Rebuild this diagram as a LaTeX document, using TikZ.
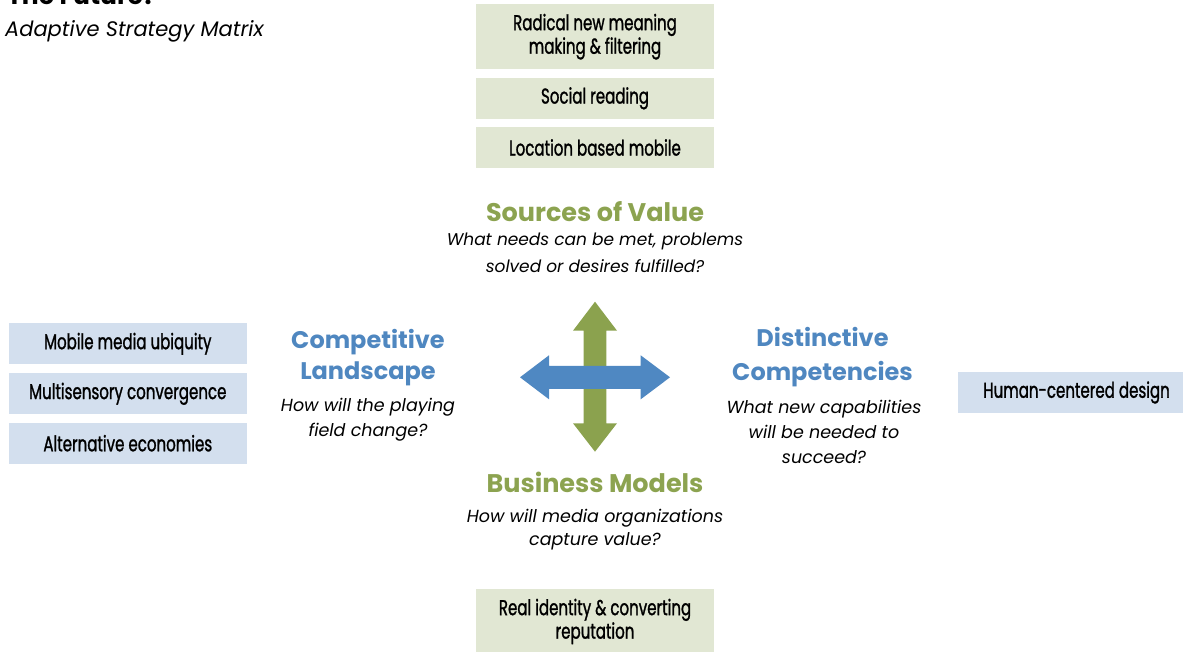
\documentclass[tikz,border=0pt]{standalone}
\usepackage{fontspec}
\setmainfont{Poppins}
\newfontfamily\boxfont{Poppins}[FakeStretch=0.7, FakeBold=1.2]
\definecolor{hgreen}{HTML}{8CA350}
\definecolor{hblue}{HTML}{4F87C0}
\definecolor{agreen}{HTML}{8BA24E}
\definecolor{ablue}{HTML}{4F88C2}
\definecolor{boxgreen}{HTML}{E1E7D3}
\definecolor{boxblue}{HTML}{D3DFEE}
\newcommand\mlines[1]{\begin{tabular}[t]{@{}c@{}}#1\end{tabular}}
\tikzset{
  gbox/.style={fill=boxgreen, draw=none, minimum width=238pt, inner sep=0pt, align=center, font=\boxfont\fontsize{21.5}{23.5}\selectfont},
  bbox/.style={fill=boxblue, draw=none, minimum width=238pt, minimum height=41pt, inner sep=0pt, align=center, font=\boxfont\fontsize{21.5}{23.5}\selectfont},
  headg/.style={text=hgreen, anchor=base, inner sep=0pt, font=\bfseries\fontsize{25.5}{32}\selectfont},
  headb/.style={text=hblue, anchor=base, inner sep=0pt, font=\bfseries\fontsize{24}{32}\selectfont},
  quest/.style={anchor=base, inner sep=0pt, font=\itshape\fontsize{17.5}{25}\selectfont},
}
\begin{document}
\begin{tikzpicture}[x=1pt,y=-1pt]
\useasboundingbox (0,0) rectangle (1183,652);
% title
\node[anchor=base west, inner sep=0pt, font=\bfseries\fontsize{25}{28}\selectfont] (title) at (7,5) {The Future?};
\node[anchor=base west, inner sep=0pt, font=\itshape\fontsize{21}{24}\selectfont] (subtitle) at (5,37) {Adaptive Strategy Matrix};
% top boxes
\node[gbox, minimum height=65.3pt] (t1) at (595,36.7) {Radical new meaning\\making \& filtering};
\node[gbox, minimum height=41.3pt] (t2) at (595,98.3) {Social reading};
\node[gbox, minimum height=41.6pt] (t3) at (595,147.5) {Location based mobile};
% bottom box
\node[gbox, minimum height=65pt] (b1) at (595,621.5) {Real identity \& converting\\reputation};
% left boxes
\node[bbox] (l1) at (127.8,343.8) {Mobile media ubiquity};
\node[bbox] (l2) at (127.8,393.8) {Multisensory convergence};
\node[bbox] (l3) at (127.8,443.2) {Alternative economies};
% right box
\node[bbox, minimum height=41.6pt] (r1) at (1076.5,392.5) {Human-centered design};
% arrows
\fill[agreen] (595,301.7) -- (617,330.7) -- (606.4,330.7) -- (606.4,423.3) -- (617,423.3) -- (595,451.7)
  -- (573,423.3) -- (583.6,423.3) -- (583.6,330.7) -- (573,330.7) -- cycle;
\fill[ablue] (520,377.3) -- (549,355.3) -- (549,365.8) -- (640.7,365.8) -- (640.7,355.3) -- (670,377.3)
  -- (640.7,399.3) -- (640.7,388.8) -- (549,388.8) -- (549,399.3) -- cycle;
% headings and questions
\node[headg] (sovh) at (595,221.7) {Sources of Value};
\node[quest, font=\itshape\fontsize{17}{26.7}\selectfont] (sovq) at (595,246) {\mlines{What needs can be met, problems\\solved or desires fulfilled?}};
\node[headb] (clh) at (368,348) {\mlines{Competitive\\Landscape}};
\node[quest] (clq) at (368,411.7) {\mlines{How will the playing\\field change?}};
\node[headb, font=\bfseries\fontsize{24}{33.3}\selectfont] (dch) at (822.5,346.7) {\mlines{Distinctive\\Competencies}};
\node[quest] (dcq) at (824,413) {\mlines{What new capabilities\\will be needed to\\succeed?}};
\node[headg] (bmh) at (595,492) {Business Models};
\node[quest, font=\itshape\fontsize{17.5}{23.5}\selectfont] (bmq) at (595,522) {\mlines{How will media organizations\\capture value?}};
\end{tikzpicture}
\end{document}
